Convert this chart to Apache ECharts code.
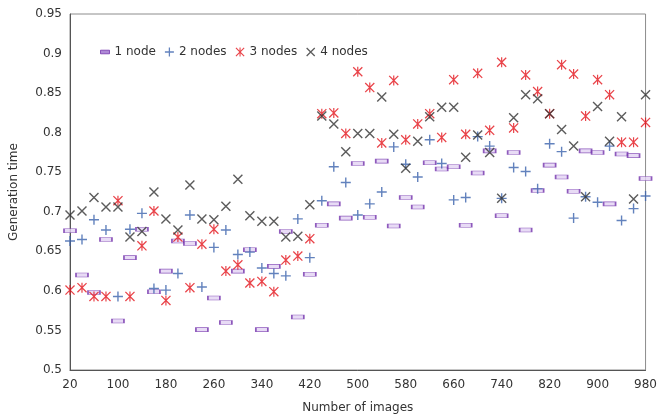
<!DOCTYPE html>
<html><head><meta charset="utf-8">
<script src="https://cdn.jsdelivr.net/npm/echarts@6/dist/echarts.min.js"></script>
<style>html,body{margin:0;padding:0;background:#fff}#c{width:660px;height:419px}</style>
</head><body><div id="c"></div><script>
const imageCounts = [20,40,60,80,100,120,140,160,180,200,220,240,260,280,300,320,340,360,380,400,420,440,460,480,500,520,540,560,580,600,620,640,660,680,700,720,740,760,780,800,820,840,860,880,900,920,940,960,980];
const xTickLabels = ['20','100','180','260','340','420','500','580','660','740','820','900','980'];
const yMin = 0.5, yMax = 0.95, yStep = 0.05;
const seriesNames = ['1 node','2 nodes','3 nodes','4 nodes'];
const oneNode = [0.676,0.620,0.598,0.665,0.562,0.642,0.678,0.599,0.625,0.663,0.660,0.551,0.591,0.560,0.625,0.652,0.551,0.631,0.675,0.567,0.621,0.683,0.710,0.692,0.761,0.693,0.764,0.682,0.718,0.706,0.762,0.754,0.757,0.683,0.749,0.777,0.695,0.775,0.677,0.727,0.759,0.744,0.726,0.777,0.775,0.710,0.773,0.771,0.742];
const twoNodes = [0.663,0.665,0.690,0.677,0.593,0.678,0.698,0.603,0.601,0.622,0.696,0.605,0.655,0.677,0.646,0.649,0.629,0.622,0.619,0.691,0.642,0.714,0.757,0.737,0.696,0.710,0.725,0.782,0.760,0.744,0.791,0.761,0.715,0.718,0.795,0.783,0.717,0.756,0.751,0.729,0.786,0.776,0.692,0.719,0.712,0.783,0.689,0.704,0.720];
const threeNodes = [0.601,0.604,0.593,0.593,0.714,0.593,0.657,0.701,0.588,0.668,0.604,0.659,0.678,0.625,0.633,0.610,0.612,0.599,0.639,0.644,0.666,0.824,0.825,0.799,0.877,0.857,0.787,0.866,0.791,0.811,0.824,0.794,0.867,0.798,0.875,0.803,0.889,0.806,0.873,0.852,0.824,0.886,0.874,0.821,0.867,0.848,0.788,0.788,0.813];
const fourNodes = [0.696,0.701,0.718,0.706,0.706,0.668,0.675,0.725,0.691,0.677,0.734,0.691,0.690,0.707,0.741,0.695,0.688,0.688,0.668,0.669,0.709,0.821,0.811,0.776,0.799,0.799,0.845,0.798,0.755,0.789,0.820,0.832,0.832,0.769,0.797,0.775,0.717,0.819,0.848,0.843,0.824,0.804,0.783,0.719,0.833,0.789,0.820,0.716,0.848];

const plusPath = 'path://M43,0L57,0L57,43L100,43L100,57L57,57L57,100L43,100L43,57L0,57L0,43L43,43Z';
const crossPath = 'path://M0,10L10,0L100,90L90,100Z M90,0L100,10L10,100L0,90Z';
const starPath = 'path://M0,9L9,0L100,91L91,100Z M91,0L100,9L9,100L0,91Z M44,0L56,0L56,100L44,100Z';
const barLegendPath = 'path://M0,0L0,0 M0,30L100,30L100,70L0,70Z M100,100L100,100';

const chart = echarts.init(document.getElementById('c'), null, {renderer: 'canvas'});
const font = 'DejaVu Sans, Verdana, sans-serif';
chart.setOption({
  animation: false,
  backgroundColor: '#fff',
  textStyle: {fontFamily: font},
  grid: {left: 70, right: 12, top: 14, bottom: 49, show: true, borderColor: '#8c8c8c', borderWidth: 1},
  legend: {
    left: 95, top: 41, itemWidth: 9, itemHeight: 9, itemGap: 9,
    textStyle: {fontFamily: font, fontSize: 12, color: '#333'},
    data: [
      {name: seriesNames[0], icon: barLegendPath, itemStyle: {color: '#9a6ccc', borderColor: '#7434ad', borderWidth: 1}},
      {name: seriesNames[1], icon: plusPath},
      {name: seriesNames[2], icon: starPath},
      {name: seriesNames[3], icon: crossPath}
    ]
  },
  xAxis: {
    type: 'category', data: imageCounts.map(String), boundaryGap: false,
    name: 'Number of images', nameLocation: 'middle', nameGap: 32,
    nameTextStyle: {fontFamily: font, fontSize: 12, color: '#333'},
    axisLine: {lineStyle: {color: '#555'}}, axisTick: {show: false},
    axisLabel: {fontFamily: font, fontSize: 12, color: '#333', margin: 9,
      interval: (idx, val) => xTickLabels.indexOf(val) >= 0},
    splitLine: {show: false}
  },
  yAxis: {
    type: 'value', min: yMin, max: yMax, interval: yStep,
    name: 'Generation time', nameLocation: 'middle', nameGap: 50,
    nameTextStyle: {fontFamily: font, fontSize: 12, color: '#333'},
    axisLine: {show: true, lineStyle: {color: '#555'}}, axisTick: {show: false},
    axisLabel: {fontFamily: font, fontSize: 12, color: '#333', margin: 8,
      formatter: v => String(+v.toFixed(2))},
    splitLine: {show: false}
  },
  series: [
    {name: seriesNames[0], type: 'scatter', data: oneNode, symbol: 'rect', symbolSize: [12, 4],
      itemStyle: {color: '#e2d2f2', borderColor: '#7434ad', borderWidth: 1}},
    {name: seriesNames[1], type: 'scatter', data: twoNodes, symbol: plusPath, symbolSize: 10,
      itemStyle: {color: '#3b63ad'}},
    {name: seriesNames[2], type: 'scatter', data: threeNodes, symbol: starPath, symbolSize: 10,
      itemStyle: {color: '#e3141b'}},
    {name: seriesNames[3], type: 'scatter', data: fourNodes, symbol: crossPath, symbolSize: 10,
      itemStyle: {color: '#333333'}}
  ]
});
</script></body></html>
